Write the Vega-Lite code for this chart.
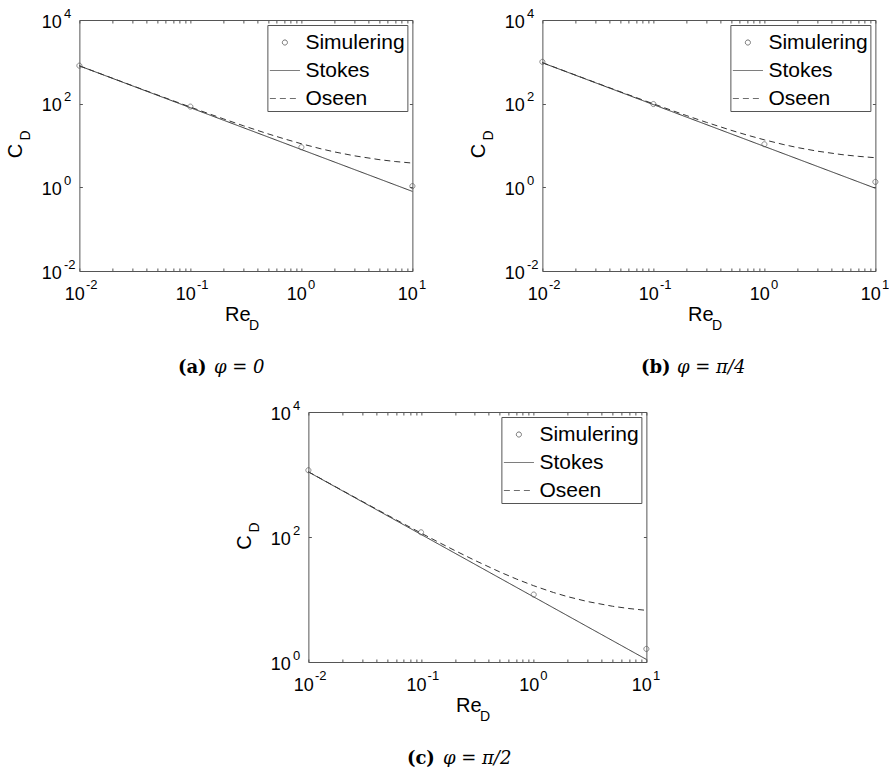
{
  "$schema": "https://vega.github.io/schema/vega-lite/v6.json",
  "padding": {"left": 5, "top": 7, "right": 0, "bottom": 0},
  "background": "white",
  "config": {
    "view": {"stroke": null},
    "font": "Liberation Sans",
    "axis": {"domainColor": "#555", "tickColor": "#555", "domainWidth": 1, "tickWidth": 1, "labelFont": "Liberation Sans", "labelFontSize": 18, "labelColor": "black", "titleFont": "Liberation Sans", "titleFontSize": 20, "titleFontWeight": "normal", "titleColor": "black", "grid": false, "labelFlush": false, "labelOverlap": false, "labelBound": false},
    "legend": {"orient": "top-right", "offset": 5, "padding": 2, "strokeColor": "#555", "fillColor": "white", "labelFont": "Liberation Sans", "labelFontSize": 21, "labelColor": "black", "symbolSize": 900, "symbolStrokeColor": "#333", "symbolStrokeWidth": 1, "symbolFillColor": "transparent", "labelOffset": 5, "rowPadding": 2}
  },
  "datasets": {
    "lines": [
      {"p":"a","series":"Stokes","Re":0.01,"CD":800},{"p":"a","series":"Stokes","Re":0.1,"CD":80},{"p":"a","series":"Stokes","Re":1,"CD":8},{"p":"a","series":"Stokes","Re":10,"CD":0.8},
      {"p":"a","series":"Oseen","Re":0.01,"CD":803},{"p":"a","series":"Oseen","Re":0.015,"CD":536.3},{"p":"a","series":"Oseen","Re":0.02,"CD":403},{"p":"a","series":"Oseen","Re":0.03,"CD":269.7},{"p":"a","series":"Oseen","Re":0.05,"CD":163},{"p":"a","series":"Oseen","Re":0.07,"CD":117.3},{"p":"a","series":"Oseen","Re":0.1,"CD":83},{"p":"a","series":"Oseen","Re":0.15,"CD":56.3},{"p":"a","series":"Oseen","Re":0.2,"CD":43},{"p":"a","series":"Oseen","Re":0.3,"CD":29.67},{"p":"a","series":"Oseen","Re":0.5,"CD":19},{"p":"a","series":"Oseen","Re":0.7,"CD":14.43},{"p":"a","series":"Oseen","Re":1,"CD":11},{"p":"a","series":"Oseen","Re":1.5,"CD":8.33},{"p":"a","series":"Oseen","Re":2,"CD":7},{"p":"a","series":"Oseen","Re":3,"CD":5.67},{"p":"a","series":"Oseen","Re":5,"CD":4.6},{"p":"a","series":"Oseen","Re":7,"CD":4.14},{"p":"a","series":"Oseen","Re":10,"CD":3.8},
      {"p":"b","series":"Stokes","Re":0.01,"CD":950},{"p":"b","series":"Stokes","Re":0.1,"CD":95},{"p":"b","series":"Stokes","Re":1,"CD":9.5},{"p":"b","series":"Stokes","Re":10,"CD":0.95},
      {"p":"b","series":"Oseen","Re":0.01,"CD":954.2},{"p":"b","series":"Oseen","Re":0.015,"CD":637.5},{"p":"b","series":"Oseen","Re":0.02,"CD":479.2},{"p":"b","series":"Oseen","Re":0.03,"CD":320.8},{"p":"b","series":"Oseen","Re":0.05,"CD":194.2},{"p":"b","series":"Oseen","Re":0.07,"CD":139.9},{"p":"b","series":"Oseen","Re":0.1,"CD":99.15},{"p":"b","series":"Oseen","Re":0.15,"CD":67.48},{"p":"b","series":"Oseen","Re":0.2,"CD":51.65},{"p":"b","series":"Oseen","Re":0.3,"CD":35.82},{"p":"b","series":"Oseen","Re":0.5,"CD":23.15},{"p":"b","series":"Oseen","Re":0.7,"CD":17.72},{"p":"b","series":"Oseen","Re":1,"CD":13.65},{"p":"b","series":"Oseen","Re":1.5,"CD":10.48},{"p":"b","series":"Oseen","Re":2,"CD":8.9},{"p":"b","series":"Oseen","Re":3,"CD":7.32},{"p":"b","series":"Oseen","Re":5,"CD":6.05},{"p":"b","series":"Oseen","Re":7,"CD":5.51},{"p":"b","series":"Oseen","Re":10,"CD":5.1},
      {"p":"c","series":"Stokes","Re":0.01,"CD":1100},{"p":"c","series":"Stokes","Re":0.1,"CD":110},{"p":"c","series":"Stokes","Re":1,"CD":11},{"p":"c","series":"Stokes","Re":10,"CD":1.1},
      {"p":"c","series":"Oseen","Re":0.01,"CD":1105.6},{"p":"c","series":"Oseen","Re":0.015,"CD":738.9},{"p":"c","series":"Oseen","Re":0.02,"CD":555.6},{"p":"c","series":"Oseen","Re":0.03,"CD":372.3},{"p":"c","series":"Oseen","Re":0.05,"CD":225.6},{"p":"c","series":"Oseen","Re":0.07,"CD":162.7},{"p":"c","series":"Oseen","Re":0.1,"CD":115.6},{"p":"c","series":"Oseen","Re":0.15,"CD":78.93},{"p":"c","series":"Oseen","Re":0.2,"CD":60.6},{"p":"c","series":"Oseen","Re":0.3,"CD":42.27},{"p":"c","series":"Oseen","Re":0.5,"CD":27.6},{"p":"c","series":"Oseen","Re":0.7,"CD":21.31},{"p":"c","series":"Oseen","Re":1,"CD":16.6},{"p":"c","series":"Oseen","Re":1.5,"CD":12.93},{"p":"c","series":"Oseen","Re":2,"CD":11.1},{"p":"c","series":"Oseen","Re":3,"CD":9.27},{"p":"c","series":"Oseen","Re":5,"CD":7.8},{"p":"c","series":"Oseen","Re":7,"CD":7.17},{"p":"c","series":"Oseen","Re":10,"CD":6.7}
    ],
    "sim": [
      {"p":"a","series":"Simulering","Re":0.01,"CD":810},{"p":"a","series":"Simulering","Re":0.1,"CD":85},{"p":"a","series":"Simulering","Re":1,"CD":9.1},{"p":"a","series":"Simulering","Re":10,"CD":1.07},
      {"p":"b","series":"Simulering","Re":0.01,"CD":1000},{"p":"b","series":"Simulering","Re":0.1,"CD":98},{"p":"b","series":"Simulering","Re":1,"CD":10.7},{"p":"b","series":"Simulering","Re":10,"CD":1.35},
      {"p":"c","series":"Simulering","Re":0.01,"CD":1170},{"p":"c","series":"Simulering","Re":0.1,"CD":119},{"p":"c","series":"Simulering","Re":1,"CD":12},{"p":"c","series":"Simulering","Re":10,"CD":1.62}
    ]
  },
  "resolve": {"scale": {"shape": "independent", "strokeDash": "independent"}, "legend": {"shape": "independent", "strokeDash": "independent"}},
  "center": true,
  "spacing": 23,
  "vconcat": [
    {
      "spacing": 42,
      "resolve": {"scale": {"shape": "independent", "strokeDash": "independent"}, "legend": {"shape": "independent", "strokeDash": "independent"}},
      "hconcat": [
        {
          "width": 333, "height": 251,
          "resolve": {"axis": {"x": "independent", "y": "independent"}},
          "layer": [
            {
              "data": {"name": "lines"},
              "transform": [{"filter": "datum.p == 'a'"}],
              "mark": {"type": "line", "stroke": "#333", "strokeWidth": 1},
              "encoding": {
                "x": {"field": "Re", "type": "quantitative", "scale": {"type": "log", "domain": [0.01, 10], "nice": false}, "axis": {"orient": "bottom", "values": [0.01,0.02,0.03,0.04,0.05,0.06,0.07,0.08,0.09,0.1,0.2,0.3,0.4,0.5,0.6,0.7,0.8,0.9,1,2,3,4,5,6,7,8,9,10], "labelExpr": "datum.value == 0.01 || datum.value == 0.1 || datum.value == 1 || datum.value == 10 ? '10' : ''", "labelAlign": "right", "labelOffset": 5, "labelBaseline": "middle", "tickSize": -3, "labelPadding": 26, "title": "Re", "titleX": 158, "titleY": 49, "titleAlign": "center", "titleBaseline": "alphabetic"}},
                "y": {"field": "CD", "type": "quantitative", "scale": {"type": "log", "domain": [0.01, 10000], "nice": false}, "axis": {"orient": "left", "values": [0.01, 1, 100, 10000], "labelExpr": "'10'", "labelAlign": "right", "labelBaseline": "middle", "labelOffset": 2, "tickSize": -3, "labelPadding": 21, "title": "C", "titleX": -58, "titleY": 130.5, "titleAlign": "center", "titleBaseline": "alphabetic", "titleAngle": 270}},
                "strokeDash": {"field": "series", "type": "nominal", "scale": {"domain": ["Simulering", "Stokes", "Oseen"], "range": [[1, 0], [1, 0], [6, 4]]}, "legend": {"title": null}}
              }
            },
            {
              "data": {"name": "sim"},
              "transform": [{"filter": "datum.p == 'a'"}],
              "mark": {"type": "point", "filled": false, "stroke": "#555", "strokeWidth": 1, "size": 900, "clip": false},
              "encoding": {
                "x": {"field": "Re", "type": "quantitative", "scale": {"type": "log", "domain": [0.01, 10], "nice": false}, "axis": {"orient": "top", "values": [0.01,0.02,0.03,0.04,0.05,0.06,0.07,0.08,0.09,0.1,0.2,0.3,0.4,0.5,0.6,0.7,0.8,0.9,1,2,3,4,5,6,7,8,9,10], "labels": false, "tickSize": -3, "title": null}},
                "y": {"field": "CD", "type": "quantitative", "scale": {"type": "log", "domain": [0.01, 10000], "nice": false}, "axis": {"orient": "right", "values": [0.01, 1, 100, 10000], "labels": false, "tickSize": -3, "title": null}},
                "shape": {"field": "series", "type": "nominal", "scale": {"domain": ["Simulering", "Stokes", "Oseen"], "range": ["M-0.17,0A0.17,0.17,0,1,1,0.17,0A0.17,0.17,0,1,1,-0.17,0Z", "M-1,0L1,0", "M-1,0L1,0"]}, "legend": {"title": null}},
                "strokeDash": {"field": "series", "type": "nominal", "scale": {"domain": ["Simulering", "Stokes", "Oseen"], "range": [[1, 0], [1, 0], [6, 4]]}, "legend": {"title": null}}
              }
            },
            {
              "data": {"name": "sim"},
              "transform": [{"filter": "datum.p == 'a'"}],
              "mark": {"type": "point", "opacity": 0},
              "encoding": {
                "x": {"field": "Re", "type": "quantitative", "scale": {"type": "log", "domain": [0.01, 10], "nice": false}, "axis": {"orient": "bottom", "domain": false, "ticks": false, "values": [0.01, 0.1, 1, 10], "labelExpr": "datum.value == 0.01 ? '-2' : datum.value == 0.1 ? '-1' : datum.value == 1 ? '0' : '1'", "labelFontSize": 13, "labelAlign": "left", "labelOffset": 6, "labelBaseline": "middle", "labelPadding": 13, "title": "D", "titleFontSize": 14, "titleX": 169, "titleY": 58, "titleAlign": "left", "titleBaseline": "alphabetic"}},
                "y": {"field": "CD", "type": "quantitative", "scale": {"type": "log", "domain": [0.01, 10000], "nice": false}, "axis": {"orient": "left", "domain": false, "ticks": false, "values": [0.01, 1, 100, 10000], "labelExpr": "datum.value < 0.1 ? '-2' : datum.value < 10 ? '0' : datum.value < 1000 ? '2' : '4'", "labelFontSize": 13, "labelAlign": "left", "labelOffset": -7, "labelBaseline": "middle", "labelPadding": 16, "title": "D", "titleFontSize": 14, "titleX": -50, "titleY": 115, "titleAlign": "center", "titleBaseline": "alphabetic", "titleAngle": 270}}
              }
            },
            {
              "data": {"name": "sim"},
              "transform": [{"filter": "datum.p == 'a'"}],
              "mark": {"type": "point", "opacity": 0},
              "encoding": {
                "x": {"field": "Re", "type": "quantitative", "scale": {"type": "log", "domain": [0.01, 10], "nice": false}, "axis": {"orient": "bottom", "domain": false, "ticks": false, "labels": false, "title": "(a)", "titleFont": "DejaVu Serif", "titleFontWeight": "bold", "titleFontSize": 18, "titleX": 98, "titleY": 101, "titleAlign": "left", "titleBaseline": "alphabetic"}},
                "y": {"field": "CD", "type": "quantitative", "scale": {"type": "log", "domain": [0.01, 10000], "nice": false}, "axis": {"orient": "left", "domain": false, "ticks": false, "labels": false, "title": "φ = 0", "titleFont": "DejaVu Serif", "titleFontStyle": "italic", "titleFontSize": 18, "titleX": 134, "titleY": 352, "titleAlign": "left", "titleBaseline": "alphabetic", "titleAngle": 0}}
              }
            }
          ]
        },
        {
          "width": 333, "height": 251,
          "resolve": {"axis": {"x": "independent", "y": "independent"}},
          "layer": [
            {
              "data": {"name": "lines"},
              "transform": [{"filter": "datum.p == 'b'"}],
              "mark": {"type": "line", "stroke": "#333", "strokeWidth": 1},
              "encoding": {
                "x": {"field": "Re", "type": "quantitative", "scale": {"type": "log", "domain": [0.01, 10], "nice": false}, "axis": {"orient": "bottom", "values": [0.01,0.02,0.03,0.04,0.05,0.06,0.07,0.08,0.09,0.1,0.2,0.3,0.4,0.5,0.6,0.7,0.8,0.9,1,2,3,4,5,6,7,8,9,10], "labelExpr": "datum.value == 0.01 || datum.value == 0.1 || datum.value == 1 || datum.value == 10 ? '10' : ''", "labelAlign": "right", "labelOffset": 5, "labelBaseline": "middle", "tickSize": -3, "labelPadding": 26, "title": "Re", "titleX": 158, "titleY": 49, "titleAlign": "center", "titleBaseline": "alphabetic"}},
                "y": {"field": "CD", "type": "quantitative", "scale": {"type": "log", "domain": [0.01, 10000], "nice": false}, "axis": {"orient": "left", "values": [0.01, 1, 100, 10000], "labelExpr": "'10'", "labelAlign": "right", "labelBaseline": "middle", "labelOffset": 2, "tickSize": -3, "labelPadding": 21, "title": "C", "titleX": -58, "titleY": 130.5, "titleAlign": "center", "titleBaseline": "alphabetic", "titleAngle": 270}},
                "strokeDash": {"field": "series", "type": "nominal", "scale": {"domain": ["Simulering", "Stokes", "Oseen"], "range": [[1, 0], [1, 0], [6, 4]]}, "legend": {"title": null}}
              }
            },
            {
              "data": {"name": "sim"},
              "transform": [{"filter": "datum.p == 'b'"}],
              "mark": {"type": "point", "filled": false, "stroke": "#555", "strokeWidth": 1, "size": 900, "clip": false},
              "encoding": {
                "x": {"field": "Re", "type": "quantitative", "scale": {"type": "log", "domain": [0.01, 10], "nice": false}, "axis": {"orient": "top", "values": [0.01,0.02,0.03,0.04,0.05,0.06,0.07,0.08,0.09,0.1,0.2,0.3,0.4,0.5,0.6,0.7,0.8,0.9,1,2,3,4,5,6,7,8,9,10], "labels": false, "tickSize": -3, "title": null}},
                "y": {"field": "CD", "type": "quantitative", "scale": {"type": "log", "domain": [0.01, 10000], "nice": false}, "axis": {"orient": "right", "values": [0.01, 1, 100, 10000], "labels": false, "tickSize": -3, "title": null}},
                "shape": {"field": "series", "type": "nominal", "scale": {"domain": ["Simulering", "Stokes", "Oseen"], "range": ["M-0.17,0A0.17,0.17,0,1,1,0.17,0A0.17,0.17,0,1,1,-0.17,0Z", "M-1,0L1,0", "M-1,0L1,0"]}, "legend": {"title": null}},
                "strokeDash": {"field": "series", "type": "nominal", "scale": {"domain": ["Simulering", "Stokes", "Oseen"], "range": [[1, 0], [1, 0], [6, 4]]}, "legend": {"title": null}}
              }
            },
            {
              "data": {"name": "sim"},
              "transform": [{"filter": "datum.p == 'b'"}],
              "mark": {"type": "point", "opacity": 0},
              "encoding": {
                "x": {"field": "Re", "type": "quantitative", "scale": {"type": "log", "domain": [0.01, 10], "nice": false}, "axis": {"orient": "bottom", "domain": false, "ticks": false, "values": [0.01, 0.1, 1, 10], "labelExpr": "datum.value == 0.01 ? '-2' : datum.value == 0.1 ? '-1' : datum.value == 1 ? '0' : '1'", "labelFontSize": 13, "labelAlign": "left", "labelOffset": 6, "labelBaseline": "middle", "labelPadding": 13, "title": "D", "titleFontSize": 14, "titleX": 169, "titleY": 58, "titleAlign": "left", "titleBaseline": "alphabetic"}},
                "y": {"field": "CD", "type": "quantitative", "scale": {"type": "log", "domain": [0.01, 10000], "nice": false}, "axis": {"orient": "left", "domain": false, "ticks": false, "values": [0.01, 1, 100, 10000], "labelExpr": "datum.value < 0.1 ? '-2' : datum.value < 10 ? '0' : datum.value < 1000 ? '2' : '4'", "labelFontSize": 13, "labelAlign": "left", "labelOffset": -7, "labelBaseline": "middle", "labelPadding": 16, "title": "D", "titleFontSize": 14, "titleX": -50, "titleY": 115, "titleAlign": "center", "titleBaseline": "alphabetic", "titleAngle": 270}}
              }
            },
            {
              "data": {"name": "sim"},
              "transform": [{"filter": "datum.p == 'b'"}],
              "mark": {"type": "point", "opacity": 0},
              "encoding": {
                "x": {"field": "Re", "type": "quantitative", "scale": {"type": "log", "domain": [0.01, 10], "nice": false}, "axis": {"orient": "bottom", "domain": false, "ticks": false, "labels": false, "title": "(b)", "titleFont": "DejaVu Serif", "titleFontWeight": "bold", "titleFontSize": 18, "titleX": 98, "titleY": 101, "titleAlign": "left", "titleBaseline": "alphabetic"}},
                "y": {"field": "CD", "type": "quantitative", "scale": {"type": "log", "domain": [0.01, 10000], "nice": false}, "axis": {"orient": "left", "domain": false, "ticks": false, "labels": false, "title": "φ = π/4", "titleFont": "DejaVu Serif", "titleFontStyle": "italic", "titleFontSize": 18, "titleX": 134, "titleY": 352, "titleAlign": "left", "titleBaseline": "alphabetic", "titleAngle": 0}}
              }
            }
          ]
        }
      ]
    },
    {
      "width": 338, "height": 250,
      "resolve": {"axis": {"x": "independent", "y": "independent"}},
      "layer": [
        {
          "data": {"name": "lines"},
          "transform": [{"filter": "datum.p == 'c'"}],
          "mark": {"type": "line", "stroke": "#333", "strokeWidth": 1},
          "encoding": {
            "x": {"field": "Re", "type": "quantitative", "scale": {"type": "log", "domain": [0.01, 10], "nice": false}, "axis": {"orient": "bottom", "values": [0.01,0.02,0.03,0.04,0.05,0.06,0.07,0.08,0.09,0.1,0.2,0.3,0.4,0.5,0.6,0.7,0.8,0.9,1,2,3,4,5,6,7,8,9,10], "labelExpr": "datum.value == 0.01 || datum.value == 0.1 || datum.value == 1 || datum.value == 10 ? '10' : ''", "labelAlign": "right", "labelOffset": 5, "labelBaseline": "middle", "tickSize": -3, "labelPadding": 26, "title": "Re", "titleX": 160, "titleY": 49, "titleAlign": "center", "titleBaseline": "alphabetic"}},
            "y": {"field": "CD", "type": "quantitative", "scale": {"type": "log", "domain": [1, 10000], "nice": false}, "axis": {"orient": "left", "values": [1, 100, 10000], "labelExpr": "'10'", "labelAlign": "right", "labelBaseline": "middle", "labelOffset": 2, "tickSize": -3, "labelPadding": 21, "title": "C", "titleX": -58, "titleY": 130, "titleAlign": "center", "titleBaseline": "alphabetic", "titleAngle": 270}},
            "strokeDash": {"field": "series", "type": "nominal", "scale": {"domain": ["Simulering", "Stokes", "Oseen"], "range": [[1, 0], [1, 0], [6, 4]]}, "legend": {"title": null}}
          }
        },
        {
          "data": {"name": "sim"},
          "transform": [{"filter": "datum.p == 'c'"}],
          "mark": {"type": "point", "filled": false, "stroke": "#555", "strokeWidth": 1, "size": 900, "clip": false},
          "encoding": {
            "x": {"field": "Re", "type": "quantitative", "scale": {"type": "log", "domain": [0.01, 10], "nice": false}, "axis": {"orient": "top", "values": [0.01,0.02,0.03,0.04,0.05,0.06,0.07,0.08,0.09,0.1,0.2,0.3,0.4,0.5,0.6,0.7,0.8,0.9,1,2,3,4,5,6,7,8,9,10], "labels": false, "tickSize": -3, "title": null}},
            "y": {"field": "CD", "type": "quantitative", "scale": {"type": "log", "domain": [1, 10000], "nice": false}, "axis": {"orient": "right", "values": [1, 100, 10000], "labels": false, "tickSize": -3, "title": null}},
            "shape": {"field": "series", "type": "nominal", "scale": {"domain": ["Simulering", "Stokes", "Oseen"], "range": ["M-0.17,0A0.17,0.17,0,1,1,0.17,0A0.17,0.17,0,1,1,-0.17,0Z", "M-1,0L1,0", "M-1,0L1,0"]}, "legend": {"title": null}},
            "strokeDash": {"field": "series", "type": "nominal", "scale": {"domain": ["Simulering", "Stokes", "Oseen"], "range": [[1, 0], [1, 0], [6, 4]]}, "legend": {"title": null}}
          }
        },
        {
          "data": {"name": "sim"},
          "transform": [{"filter": "datum.p == 'c'"}],
          "mark": {"type": "point", "opacity": 0},
          "encoding": {
            "x": {"field": "Re", "type": "quantitative", "scale": {"type": "log", "domain": [0.01, 10], "nice": false}, "axis": {"orient": "bottom", "domain": false, "ticks": false, "values": [0.01, 0.1, 1, 10], "labelExpr": "datum.value == 0.01 ? '-2' : datum.value == 0.1 ? '-1' : datum.value == 1 ? '0' : '1'", "labelFontSize": 13, "labelAlign": "left", "labelOffset": 6, "labelBaseline": "middle", "labelPadding": 13, "title": "D", "titleFontSize": 14, "titleX": 171, "titleY": 58, "titleAlign": "left", "titleBaseline": "alphabetic"}},
            "y": {"field": "CD", "type": "quantitative", "scale": {"type": "log", "domain": [1, 10000], "nice": false}, "axis": {"orient": "left", "domain": false, "ticks": false, "values": [1, 100, 10000], "labelExpr": "datum.value < 10 ? '0' : datum.value < 1000 ? '2' : '4'", "labelFontSize": 13, "labelAlign": "left", "labelOffset": -7, "labelBaseline": "middle", "labelPadding": 16, "title": "D", "titleFontSize": 14, "titleX": -50, "titleY": 115, "titleAlign": "center", "titleBaseline": "alphabetic", "titleAngle": 270}}
          }
        },
        {
          "data": {"name": "sim"},
          "transform": [{"filter": "datum.p == 'c'"}],
          "mark": {"type": "point", "opacity": 0},
          "encoding": {
            "x": {"field": "Re", "type": "quantitative", "scale": {"type": "log", "domain": [0.01, 10], "nice": false}, "axis": {"orient": "bottom", "domain": false, "ticks": false, "labels": false, "title": "(c)", "titleFont": "DejaVu Serif", "titleFontWeight": "bold", "titleFontSize": 18, "titleX": 98, "titleY": 101, "titleAlign": "left", "titleBaseline": "alphabetic"}},
            "y": {"field": "CD", "type": "quantitative", "scale": {"type": "log", "domain": [1, 10000], "nice": false}, "axis": {"orient": "left", "domain": false, "ticks": false, "labels": false, "title": "φ = π/2", "titleFont": "DejaVu Serif", "titleFontStyle": "italic", "titleFontSize": 18, "titleX": 134, "titleY": 351, "titleAlign": "left", "titleBaseline": "alphabetic", "titleAngle": 0}}
          }
        }
      ]
    }
  ]
}
